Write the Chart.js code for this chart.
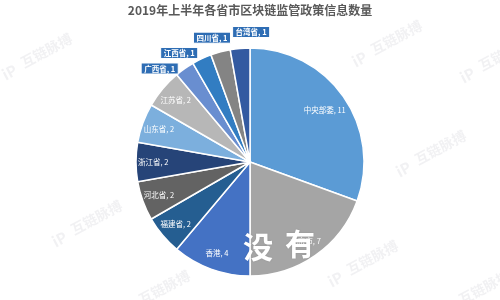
<!DOCTYPE html>
<html>
<head>
<meta charset="utf-8">
<script src="https://cdn.jsdelivr.net/npm/chart.js@4/dist/chart.umd.min.js"></script>
<style>
  html, body { margin: 0; padding: 0; background: #ffffff; }
  #wrap { width: 500px; height: 300px; position: relative; }
</style>
</head>
<body>
<div id="wrap"><canvas id="c" width="500" height="300"></canvas></div>
<script>
// Policy counts per region, first half of 2019
const categories = ['中央部委', '北京市', '香港', '福建省', '河北省', '浙江省', '山东省', '江苏省', '广西省', '江西省', '四川省', '台湾省'];
const counts = [11, 7, 4, 2, 2, 2, 2, 2, 1, 1, 1, 1];
const palette = ['#5B9BD5', '#A5A5A5', '#4472C4', '#255E91', '#636363', '#264478', '#7CAFDD', '#B7B7B7', '#698ED0', '#327DC2', '#848484', '#335AA1'];
const titleText = '2019年上半年各省市区块链监管政策信息数量';
const brandText = '互链脉搏';
const stampChars = ['没', '有'];

const CJK = '"Noto Sans CJK SC", "Noto Sans", sans-serif';

// Small slices get boxed callouts placed just outside the pie (angle in degrees, clockwise from top)
const calloutAngle = { 8: 316, 9: 327, 10: 343, 11: 0.5 };

const watermarkPlugin = {
  id: 'watermark',
  beforeDatasetsDraw(chart) {
    const ctx = chart.ctx;
    const spots = [[42, 55], [392, 42], [500, 58], [436, 152], [92, 222], [368, 262], [160, 292], [480, 292]];
    ctx.save();
    spots.forEach(([x, y]) => {
      ctx.save();
      ctx.translate(x, y);
      ctx.rotate(-28 * Math.PI / 180);
      ctx.fillStyle = 'rgba(190,190,200,0.22)';
      ctx.font = 'bold 15px ' + CJK;
      ctx.textAlign = 'left';
      ctx.textBaseline = 'middle';
      ctx.fillText('iP', -44, 0);
      ctx.font = 'bold 14px ' + CJK;
      ctx.fillText(brandText, -22, -2);
      ctx.restore();
    });
    ctx.restore();
  }
};

const labelPlugin = {
  id: 'sliceLabels',
  afterDatasetsDraw(chart) {
    const ctx = chart.ctx;
    const meta = chart.getDatasetMeta(0);
    const values = chart.data.datasets[0].data;
    ctx.save();
    ctx.textBaseline = 'middle';
    ctx.textAlign = 'center';
    meta.data.forEach((arc, i) => {
      const { x, y, startAngle, endAngle, outerRadius } = arc.getProps(['x', 'y', 'startAngle', 'endAngle', 'outerRadius'], true);
      const text = chart.data.labels[i] + ', ' + values[i];
      if (calloutAngle[i] !== undefined) {
        const a = (calloutAngle[i] - 90) * Math.PI / 180;
        const r = outerRadius + 16;
        const cx = x + Math.cos(a) * r;
        const cy = y + Math.sin(a) * r;
        ctx.font = 'bold 7.5px ' + CJK;
        const w = ctx.measureText(text).width + 6;
        const h = 11;
        ctx.fillStyle = '#2E6DB4';
        ctx.strokeStyle = '#ffffff';
        ctx.lineWidth = 1;
        ctx.fillRect(cx - w / 2, cy - h / 2, w, h);
        ctx.strokeRect(cx - w / 2, cy - h / 2, w, h);
        ctx.fillStyle = '#ffffff';
        ctx.fillText(text, cx, cy + 0.5);
      } else {
        const mid = (startAngle + endAngle) / 2;
        const f = i === 0 ? 0.8 : 0.85;
        const lx = x + Math.cos(mid) * outerRadius * f;
        const ly = y + Math.sin(mid) * outerRadius * f;
        ctx.font = '7.5px ' + CJK;
        ctx.fillStyle = '#ffffff';
        ctx.fillText(text, lx, ly);
      }
    });
    ctx.restore();
  },
  afterDraw(chart) {
    // white brush-style stamp over the lower part of the pie
    const ctx = chart.ctx;
    ctx.save();
    ctx.font = 'bold 30px "Noto Sans CJK SC", serif';
    ctx.textAlign = 'center';
    ctx.textBaseline = 'middle';
    ctx.shadowColor = 'rgba(0,0,0,0.12)';
    ctx.shadowBlur = 2;
    ctx.fillStyle = '#ffffff';
    ctx.fillText(stampChars[0], 258, 247);
    ctx.fillText(stampChars[1], 300, 244);
    ctx.restore();
  }
};

new Chart(document.getElementById('c'), {
  type: 'pie',
  data: {
    labels: categories,
    datasets: [{
      data: counts,
      backgroundColor: palette,
      borderColor: '#ffffff',
      borderWidth: 1.5
    }]
  },
  options: {
    responsive: false,
    animation: false,
    radius: 114,
    layout: { padding: { top: 0, bottom: 24, left: 0, right: 0 } },
    plugins: {
      legend: { display: false },
      tooltip: { enabled: false },
      title: {
        display: true,
        text: titleText,
        color: '#595959',
        font: { family: CJK, size: 12, weight: 'bold' },
        padding: { top: 3, bottom: 30.6 }
      }
    }
  },
  plugins: [watermarkPlugin, labelPlugin]
});
</script>
</body>
</html>
